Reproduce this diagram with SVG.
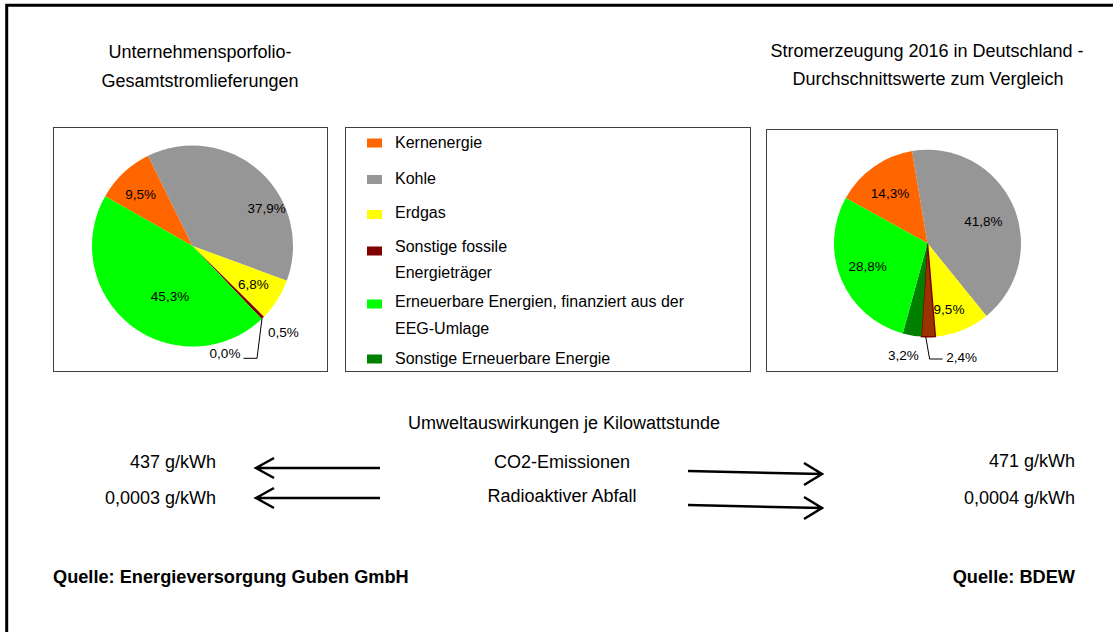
<svg xmlns="http://www.w3.org/2000/svg" width="1113" height="632" viewBox="0 0 1113 632">
<style>
text{font-family:"Liberation Sans",Arial,sans-serif;fill:#000}
.t{font-size:18px;text-anchor:middle}
.lg{font-size:16px}
.pl{font-size:13.5px;text-anchor:middle}
.v{font-size:18px;text-anchor:end}
.c{font-size:18px;text-anchor:middle}
.src{font-size:18.2px;font-weight:bold}
.box{fill:#fff;stroke:#404040;stroke-width:1}
.lead{fill:none;stroke:#000;stroke-width:1}
.arr{fill:none;stroke:#000;stroke-width:2.5;stroke-linecap:butt;stroke-linejoin:miter}
.kern{fill:#FF6600}.kohle{fill:#969696}.gas{fill:#FFFF00}.fos{fill:#800000}.eeg{fill:#00FF00}.ern{fill:#008000}
</style>
<rect width="1113" height="632" fill="#fff"/>
<g id="frame">
<path d="M6.7,632 V5.3 H1113" fill="none" stroke="#000" stroke-width="3"/>
</g>
<g id="title-left">
<text class="t" x="200" y="58">Unternehmensporfolio-</text>
<text class="t" x="200" y="86.5">Gesamtstromlieferungen</text>
</g>
<g id="title-right">
<text class="t" x="927" y="57">Stromerzeugung 2016 in Deutschland -</text>
<text class="t" x="928" y="85">Durchschnittswerte zum Vergleich</text>
</g>
<g id="pie-left">
<rect class="box" x="53.5" y="127.5" width="274" height="244"/>
<path class="kern" d="M192.5,246 L105.11,196.36 A100.5,100.5 0 0 1 148.13,155.82 Z"/>
<path class="kohle" d="M192.5,246 L148.13,155.82 A100.5,100.5 0 0 1 286.82,280.70 Z"/>
<path class="gas" d="M192.5,246 L286.82,280.70 A100.5,100.5 0 0 1 263.94,316.69 Z"/>
<path class="fos" d="M192.5,246 L263.94,316.69 A100.5,100.5 0 0 1 261.68,318.90 Z"/>
<path class="eeg" d="M192.5,246 L261.68,318.90 A100.5,100.5 0 0 1 105.11,196.36 Z"/>
<polyline class="lead" points="262,318.5 257,358.3 243.5,358.3"/>
<text class="pl" x="140.7" y="198.5">9,5%</text>
<text class="pl" x="266.7" y="213">37,9%</text>
<text class="pl" x="253.3" y="289">6,8%</text>
<text class="pl" x="170" y="300.5">45,3%</text>
<text class="pl" x="283.3" y="337">0,5%</text>
<text class="pl" x="225" y="358">0,0%</text>
</g>
<g id="legend">
<rect class="box" x="345.5" y="127.5" width="405" height="244"/>
<rect class="kern" x="367" y="138.5" width="15" height="9"/>
<text class="lg" x="395" y="148.3">Kernenergie</text>
<rect class="kohle" x="367" y="175" width="15" height="9"/>
<text class="lg" x="395" y="184">Kohle</text>
<rect class="gas" x="367" y="210" width="15" height="9"/>
<text class="lg" x="395" y="217.7">Erdgas</text>
<rect class="fos" x="367" y="246.5" width="15" height="9"/>
<text class="lg" x="395" y="251.7">Sonstige fossile</text>
<text class="lg" x="395" y="277.7">Energieträger</text>
<rect class="eeg" x="367" y="299.5" width="15" height="9"/>
<text class="lg" x="395" y="307.3">Erneuerbare Energien, finanziert aus der</text>
<text class="lg" x="395" y="334.3">EEG-Umlage</text>
<rect class="ern" x="367" y="354.5" width="15" height="9"/>
<text class="lg" x="395" y="364">Sonstige Erneuerbare Energie</text>
</g>
<g id="pie-right">
<rect class="box" x="766.5" y="129.5" width="291" height="242"/>
<path class="kern" d="M927.5,243.3 L845.74,197.94 A93.5,93.5 0 0 1 912.07,151.08 Z"/>
<path class="kohle" d="M927.5,243.3 L912.07,151.08 A93.5,93.5 0 0 1 986.38,315.93 Z"/>
<path class="gas" d="M927.5,243.3 L986.38,315.93 A93.5,93.5 0 0 1 935.35,336.47 Z"/>
<path d="M927.5,243.3 L935.35,336.47 A93.5,93.5 0 0 1 921.27,336.59 Z" fill="#993300" stroke="#800000" stroke-width="1.5"/>
<path class="ern" d="M927.5,243.3 L921.27,336.59 A93.5,93.5 0 0 1 902.76,333.47 Z"/>
<path class="eeg" d="M927.5,243.3 L902.76,333.47 A93.5,93.5 0 0 1 845.74,197.94 Z"/>
<polyline class="lead" points="925.7,336.5 929.6,359 942.5,359"/>
<text class="pl" x="890" y="197.7">14,3%</text>
<text class="pl" x="983.3" y="226">41,8%</text>
<text class="pl" x="867.7" y="270.7">28,8%</text>
<text class="pl" x="949" y="314.3">9,5%</text>
<text class="pl" x="903.3" y="360">3,2%</text>
<text class="pl" x="961.7" y="362.3">2,4%</text>
</g>
<g id="impacts">
<text class="c" x="564" y="429">Umweltauswirkungen je Kilowattstunde</text>
<text class="c" x="562" y="467.5">CO2-Emissionen</text>
<text class="c" x="562" y="502">Radioaktiver Abfall</text>
<text class="v" x="216" y="468">437 g/kWh</text>
<text class="v" x="216" y="503.5">0,0003 g/kWh</text>
<text class="v" x="1075" y="467">471 g/kWh</text>
<text class="v" x="1075" y="503.5">0,0004 g/kWh</text>
</g>
<g id="connectors">
<path class="arr" d="M380,468 H256 M274,458 L256,468 L274,478"/>
<path class="arr" d="M380,498 H256 M274,488 L256,498 L274,508"/>
<path class="arr" d="M688,471 L822,474 M804,463 L822,474 L804,485"/>
<path class="arr" d="M688,505 L822,508 M804,497 L822,508 L804,519"/>
</g>
<g id="sources">
<text class="src" x="53" y="583">Quelle: Energieversorgung Guben GmbH</text>
<text class="src" x="1075" y="583" text-anchor="end">Quelle: BDEW</text>
</g>
</svg>
